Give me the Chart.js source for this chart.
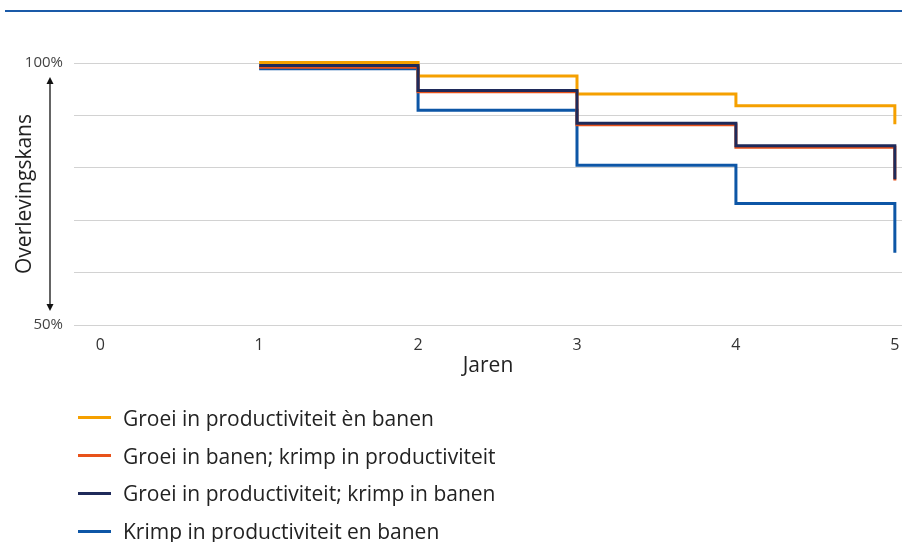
<!DOCTYPE html>
<html>
<head>
<meta charset="utf-8">
<script src="https://cdn.jsdelivr.net/npm/chart.js@4/dist/chart.umd.min.js"></script>
<style>
  html, body { margin: 0; padding: 0; background: #fff; }
  #wrap { position: relative; width: 902px; height: 542px; overflow: hidden; font-family: "Open Sans", "Noto Sans", sans-serif; }
  #rule { position: absolute; left: 5px; top: 10px; width: 897px; height: 2px; background: #1a5aa8; }
  #c { position: absolute; left: 0; top: 0; }
  #legend { position: absolute; left: 78px; top: 399px; }
  .li { display: flex; align-items: center; height: 37.8px; font-size: 21px; color: #222; }
  .sw { width: 33px; height: 3px; margin-right: 12px; }
</style>
</head>
<body>
<div id="wrap">
  <div id="rule"></div>
  <canvas id="c" width="902" height="542"></canvas>
  <div id="legend"></div>
</div>
<script>
const years = [1, 2, 3, 4, 5];
const xTickLabels = [0, 1, 2, 3, 4, 5];
const yTickLabels = { 100: '100%', 50: '50%' };

const seriesNames = [
  'Groei in productiviteit èn banen',
  'Groei in banen; krimp in productiviteit',
  'Groei in productiviteit; krimp in banen',
  'Krimp in productiviteit en banen'
];
const seriesColors = ['#f5a000', '#e8521a', '#1f2a5a', '#0d56a6'];

const groeiBeide   = [100.1, 97.5, 94.1, 91.85, 88.3];
const groeiBanen   = [99.2, 94.5, 88.2, 83.9, 77.6];
const groeiProd    = [99.5, 94.75, 88.5, 84.2, 77.8];
const krimpBeide   = [98.9, 91.0, 80.5, 73.2, 63.8];
const seriesValues = [groeiBeide, groeiBanen, groeiProd, krimpBeide];

// draw order: last drawn on top -> navy above red
const drawOrder = [3, 2, 1, 4];

const datasets = seriesNames.map((name, i) => ({
  label: name,
  data: years.map((x, j) => ({ x: x, y: seriesValues[i][j] })),
  borderColor: seriesColors[i],
  backgroundColor: seriesColors[i],
  borderWidth: 3,
  stepped: 'before',
  pointRadius: 0,
  fill: false,
  clip: 8,
  order: drawOrder[i]
}));

const arrowPlugin = {
  id: 'arrow',
  afterDraw(chart) {
    const ctx = chart.ctx;
    const x = 50, top = 77, bot = 311;
    ctx.save();
    ctx.strokeStyle = '#111';
    ctx.fillStyle = '#111';
    ctx.lineWidth = 1.3;
    ctx.beginPath();
    ctx.moveTo(x, top + 5);
    ctx.lineTo(x, bot - 5);
    ctx.stroke();
    ctx.beginPath();
    ctx.moveTo(x, top); ctx.lineTo(x - 3.5, top + 7); ctx.lineTo(x + 3.5, top + 7); ctx.closePath(); ctx.fill();
    ctx.beginPath();
    ctx.moveTo(x, bot); ctx.lineTo(x - 3.5, bot - 7); ctx.lineTo(x + 3.5, bot - 7); ctx.closePath(); ctx.fill();
    ctx.restore();
  }
};

new Chart(document.getElementById('c'), {
  type: 'line',
  data: { datasets },
  options: {
    responsive: false,
    animation: false,
    events: [],
    layout: { padding: { left: 10, right: 0, top: 63, bottom: 159 } },
    plugins: { legend: { display: false }, tooltip: { enabled: false } },
    scales: {
      x: {
        type: 'linear',
        min: -0.165,
        max: 5.045,
        afterBuildTicks(scale) { scale.ticks = xTickLabels.map(v => ({ value: v })); },
        afterFit(scale) { scale.height = 58; scale.paddingLeft = 0; scale.paddingRight = 0; },
        grid: { display: false, drawTicks: false },
        border: { display: false },
        ticks: { color: '#333', font: { family: 'Open Sans', size: 16 }, padding: 11, maxRotation: 0, autoSkip: false },
        title: { display: true, text: 'Jaren', color: '#222', font: { family: 'Open Sans', size: 21 }, padding: { top: 0, bottom: 4 } }
      },
      y: {
        min: 50,
        max: 100,
        afterBuildTicks(scale) { scale.ticks = [50, 60, 70, 80, 90, 100].map(v => ({ value: v })); },
        afterFit(scale) { scale.width = 64; scale.paddingTop = 0; scale.paddingBottom = 0; },
        grid: { color: '#d2d2d2', lineWidth: 1, drawTicks: false },
        border: { display: false },
        ticks: {
          color: '#444', font: { family: 'Open Sans', size: 15 }, padding: 11,
          callback: (v) => yTickLabels[v] || ''
        },
        title: { display: true, text: 'Overlevingskans', color: '#222', font: { family: 'Open Sans', size: 21 }, padding: { top: 2, bottom: 0 } }
      }
    }
  },
  plugins: [arrowPlugin]
});

const leg = document.getElementById('legend');
seriesNames.forEach((n, i) => {
  const row = document.createElement('div');
  row.className = 'li';
  const sw = document.createElement('span');
  sw.className = 'sw';
  sw.style.background = seriesColors[i];
  const t = document.createElement('span');
  t.textContent = n;
  row.appendChild(sw); row.appendChild(t);
  leg.appendChild(row);
});
</script>
</body>
</html>
